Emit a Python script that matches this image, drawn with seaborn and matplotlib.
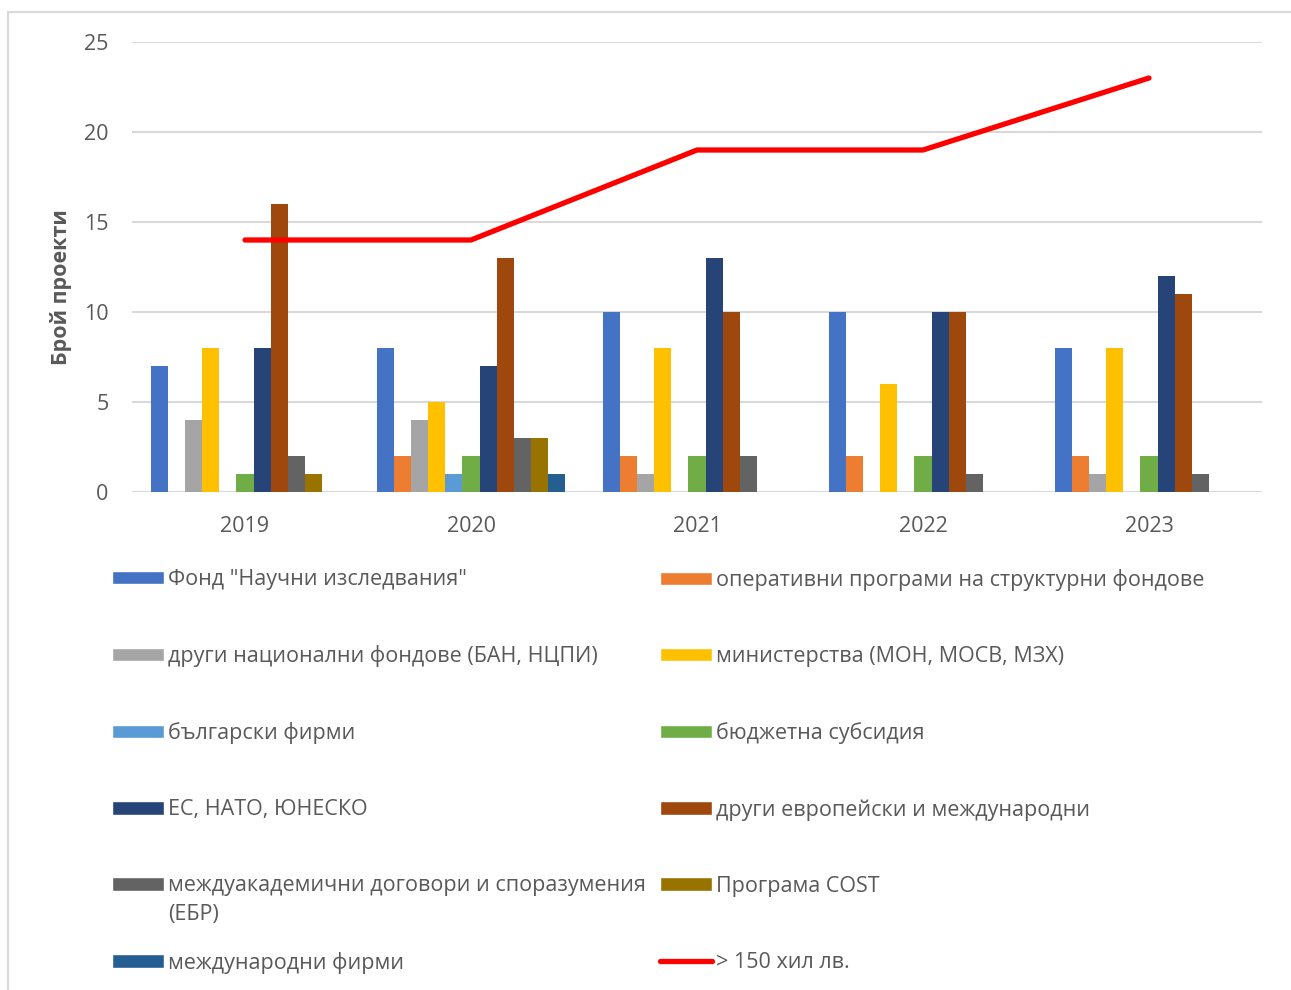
import pandas as pd
import matplotlib
matplotlib.use("Agg")
import matplotlib.pyplot as plt
from matplotlib.patches import Patch, Rectangle
from matplotlib.lines import Line2D
from matplotlib.transforms import IdentityTransform
import seaborn as sns

# Data
years = ["2019", "2020", "2021", "2022", "2023"]
fond_ni = [7, 8, 10, 10, 8]
operativni = [0, 2, 2, 2, 2]
drugi_nac = [4, 4, 1, 0, 1]
ministerstva = [8, 5, 8, 6, 8]
bg_firmi = [0, 1, 0, 0, 0]
budjet = [1, 2, 2, 2, 2]
es_nato = [8, 7, 13, 10, 12]
drugi_evr = [16, 13, 10, 10, 11]
mejduakad = [2, 3, 2, 1, 1]
cost = [1, 3, 0, 0, 0]
mejd_firmi = [0, 1, 0, 0, 0]
nad_150 = [14, 14, 19, 19, 23]

sources = [
    'Фонд "Научни изследвания"',
    "оперативни програми на структурни фондове",
    "други национални фондове (БАН, НЦПИ)",
    "министерства (МОН, МОСВ, МЗХ)",
    "български фирми",
    "бюджетна субсидия",
    "ЕС, НАТО, ЮНЕСКО",
    "други европейски и международни",
    "междуакадемични договори и споразумения",
    "Програма COST",
    "международни фирми",
]
series = [fond_ni, operativni, drugi_nac, ministerstva, bg_firmi, budjet,
          es_nato, drugi_evr, mejduakad, cost, mejd_firmi]
colors = ["#4472C4", "#ED7D31", "#A5A5A5", "#FFC000", "#5B9BD5", "#70AD47",
          "#264478", "#9E480E", "#636363", "#997300", "#255E91"]
line_label = "> 150 хил лв."

rows = []
for src, vals in zip(sources, series):
    for y, v in zip(years, vals):
        rows.append({"year": y, "source": src, "value": v})
df = pd.DataFrame(rows)

sns.set_theme(style="white")
plt.rcParams["font.family"] = ["Open Sans", "DejaVu Sans"]

W, H = 1291, 990
fig = plt.figure(figsize=(W / 100, H / 100), dpi=100)
ax = fig.add_axes([132 / W, 1 - 492 / H, (1262 - 132) / W, 450 / H])

sns.barplot(data=df, x="year", y="value", hue="source", hue_order=sources,
            order=years, palette=colors, saturation=1, width=0.83,
            linewidth=0, legend=False, ax=ax)
ax.plot(range(len(years)), nad_150, color="#FF0000", lw=3.8,
        solid_capstyle="round", zorder=5)

ax.set_xlim(-0.5, len(years) - 0.5)
ax.set_ylim(0, 25)
ax.set_yticks([0, 5, 10, 15, 20, 25])
ax.yaxis.grid(True, color="#D9D9D9", lw=1.5)
ax.set_axisbelow(True)
for s in ax.spines.values():
    s.set_visible(False)
ax.tick_params(axis="both", length=0, labelsize=15.5, labelcolor="#595959")
ax.tick_params(axis="x", pad=17)
ax.tick_params(axis="y", pad=17)
ax.set_xlabel("")
ax.set_ylabel("Брой проекти", fontsize=15.5, fontweight="bold", color="#595959")
ax.yaxis.set_label_coords(-0.053, 0.456)

# figure border
fig.patches.append(Rectangle((8 / W, -0.05), 1.1, 1 - 12 / H + 0.05,
                             transform=fig.transFigure, fill=False,
                             edgecolor="#D9D9D9", lw=1.5))

handles = [Patch(facecolor=c) for c in colors]
handles.append(Line2D([0], [0], color="#FF0000", lw=3.8, solid_capstyle="round"))
labels = sources + [line_label]

leg_kw = dict(loc="upper left", frameon=False, borderpad=0, borderaxespad=0,
              handlelength=2.4, handleheight=0.6, handletextpad=0.2,
              labelspacing=2.56, fontsize=15.5, labelcolor="#595959")
leg1 = fig.legend(handles[0::2], labels[0::2],
                  bbox_to_anchor=(112 / W, 1 - 569 / H), **leg_kw)
leg2 = fig.legend(handles[1::2], labels[1::2],
                  bbox_to_anchor=(660 / W, 1 - 569 / H), **leg_kw)

fig.canvas.draw()
bb = leg1.get_texts()[4].get_window_extent()
fig.text(bb.x0, bb.y0 - 8, "(ЕБР)", transform=IdentityTransform(),
         va="top", ha="left", fontsize=15.5, color="#595959")

fig.savefig("out.png", dpi=100)
